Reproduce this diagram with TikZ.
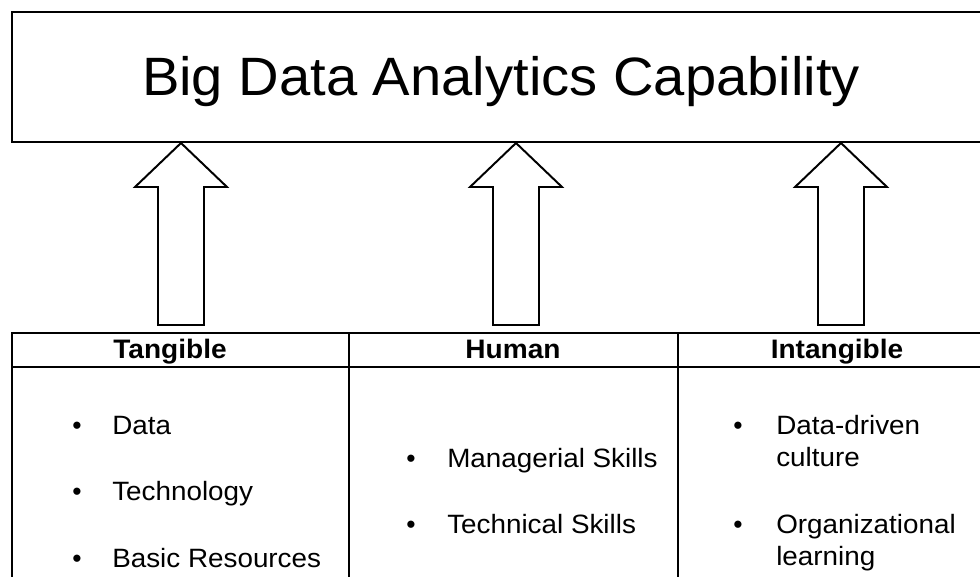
\documentclass[tikz,border=0pt]{standalone}
\usepackage{fontspec}
\setmainfont{Liberation Sans}
\usetikzlibrary{positioning}

% the source text is set a little wide
\newcommand{\widetext}[2]{\scalebox{#1}[1]{#2}}

\tikzset{
  frame/.style={draw, line width=2.1pt},
  blockarrow/.style={draw, line width=1.4pt, fill=white, line join=miter},
  rule/.style={line width=0.9pt},
  colhead/.style={font=\fontsize{19}{23}\selectfont\bfseries, anchor=base, inner sep=0pt},
  item/.style={font=\fontsize{18.85}{22}\selectfont, anchor=base west, inner sep=0pt},
  dot/.style={font=\fontsize{18.85}{22}\selectfont, anchor=base, inner sep=0pt},
}

\begin{document}
\begin{tikzpicture}[x=0.025cm, y=-0.025cm]
		\useasboundingbox (0,0) rectangle (980,577);
		\clip (0,0) rectangle (980,577);

		% capability box
		\draw[frame] (12,12) rectangle (1000,142);
		\node[font=\fontsize{38.4}{44}\selectfont, anchor=base, inner sep=0pt] (bdac) at (501,96)
			{\widetext{1.04}{Big Data Analytics Capability}};

		% block arrows
		\foreach \x in {181,516,841}
		\draw[blockarrow] (\x,143) -- (\x+46,187) -- (\x+23,187) -- (\x+23,325)
			-- (\x-23,325) -- (\x-23,187) -- (\x-46,187) -- cycle;

		% table
		\draw[rule] (1000,333) -- (12,333) -- (12,600);
		\draw[rule] (12,367) -- (1000,367);
		\draw[rule] (349,333) -- (349,600);
		\draw[rule] (678,333) -- (678,600);

		\node[colhead] (tangible) at (170,358) {\widetext{1.05}{Tangible}};
		\node[colhead] (human) at (513,358) {\widetext{1.05}{Human}};
		\node[colhead] (intangible) at (837,358) {\widetext{1.05}{Intangible}};

		% tangible resources
		\foreach \y/\t [count=\i] in {434/Data, 500/Technology, 567/Basic Resources} {
			\node[dot] (tb\i) at (77,\y) {\textbullet};
			\node[item] (ti\i) at (112,\y) {\widetext{1.05}{\t}};
		}

		% human resources
		\foreach \y/\t [count=\i] in {467/Managerial Skills, 533/Technical Skills} {
			\node[dot] (hb\i) at (411,\y) {\textbullet};
			\node[item] (hi\i) at (447,\y) {\widetext{1.05}{\t}};
		}

		% intangible resources
		\node[dot] (ib1) at (738,434) {\textbullet};
		\node[item] (ii1) at (776,434) {\widetext{1.05}{Data-driven}};
		\node[item] (ii1b) at (776,466) {\widetext{1.05}{culture}};
		\node[dot] (ib2) at (738,533) {\textbullet};
		\node[item] (ii2) at (776,533) {\widetext{1.05}{Organizational}};
		\node[item] (ii2b) at (776,565) {\widetext{1.05}{learning}};
	\end{tikzpicture}
\end{document}
